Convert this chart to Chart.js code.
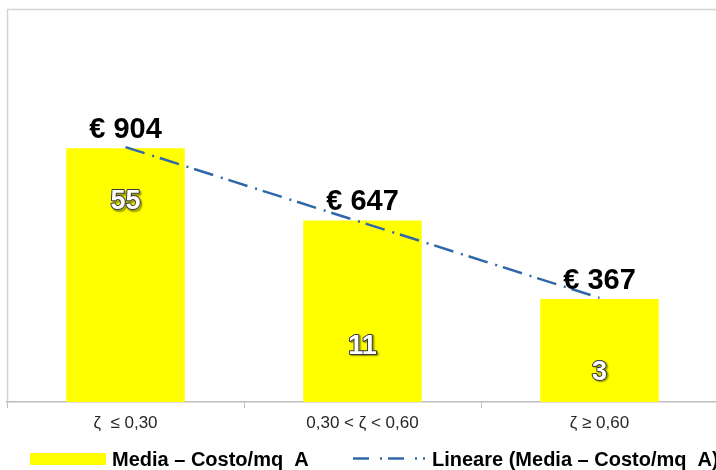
<!DOCTYPE html>
<html><head><meta charset="utf-8">
<script src="https://cdn.jsdelivr.net/npm/chart.js@4.4.1/dist/chart.umd.min.js"></script>
<style>
html,body{margin:0;padding:0;background:#fff;overflow:hidden;}
#wrap{position:relative;width:730px;height:470px;}
</style></head><body>
<div id="wrap"><canvas id="c"></canvas></div>
<script>
const categories = ['ζ  ≤ 0,30', '0,30 < ζ < 0,60', 'ζ ≥ 0,60'];
const costoMedio = [904, 647, 367];
const trendLineare = [908, 639, 371];
const numeroCampioni = [55, 11, 3];
const seriesNames = ['Media – Costo/mq  A', 'Lineare (Media – Costo/mq  A)'];

const FONT = '"Liberation Sans", Arial, sans-serif';
const BAR_COLOR = '#FFFF00';
const LINE_COLOR = '#2F68A8';

const framePlugin = {
  id: 'frame',
  beforeDraw(chart) {
    const {ctx, chartArea: a} = chart;
    ctx.save();
    ctx.strokeStyle = '#d4d4d4';
    ctx.lineWidth = 1.5;
    ctx.beginPath();
    ctx.moveTo(a.left + 0.5, a.bottom);
    ctx.lineTo(a.left + 0.5, a.top + 0.5);
    ctx.lineTo(chart.width, a.top + 0.5);
    ctx.stroke();
    ctx.restore();
  }
};

const labelPlugin = {
  id: 'labels',
  afterDatasetsDraw(chart) {
    const ctx = chart.ctx;
    ctx.save();
    const barMeta = chart.getDatasetMeta(0);
    ctx.font = 'bold 29px ' + FONT;
    ctx.textAlign = 'center';
    ctx.textBaseline = 'alphabetic';
    ctx.fillStyle = '#000';
    barMeta.data.forEach((el, i) => {
      ctx.fillText('€ ' + costoMedio[i], el.x, el.y - 10);
    });
    const cm = chart.getDatasetMeta(2);
    ctx.font = 'bold 27px ' + FONT;
    ctx.textBaseline = 'middle';
    cm.data.forEach((el, i) => {
      const t = String(numeroCampioni[i]);
      const y = el.y + 2;
      ctx.save();
      ctx.shadowColor = 'rgba(0,0,0,0.45)';
      ctx.shadowOffsetX = 1.5; ctx.shadowOffsetY = 1.5; ctx.shadowBlur = 1.5;
      ctx.lineWidth = 2; ctx.strokeStyle = '#3a3a3a'; ctx.lineJoin = 'round';
      ctx.strokeText(t, el.x, y);
      ctx.restore();
      ctx.fillStyle = '#fff';
      ctx.fillText(t, el.x, y);
    });
    ctx.restore();
  }
};

const legendPlugin = {
  id: 'customLegend',
  afterDraw(chart) {
    const ctx = chart.ctx;
    ctx.save();
    ctx.fillStyle = BAR_COLOR;
    ctx.fillRect(30, 453, 76, 12);
    ctx.font = 'bold 20px ' + FONT;
    ctx.fillStyle = '#000';
    ctx.textAlign = 'left';
    ctx.textBaseline = 'alphabetic';
    ctx.fillText(seriesNames[0], 112, 466);
    ctx.strokeStyle = LINE_COLOR;
    ctx.lineWidth = 2.5;
    ctx.setLineDash([16, 11, 2, 6]);
    ctx.beginPath();
    ctx.moveTo(353, 458.5); ctx.lineTo(425, 458.5);
    ctx.stroke();
    ctx.setLineDash([]);
    ctx.fillText(seriesNames[1], 432, 466);
    ctx.restore();
  }
};

new Chart(document.getElementById('c'), {
  data: {
    labels: categories,
    datasets: [
      {type: 'bar', label: seriesNames[0], data: costoMedio, backgroundColor: BAR_COLOR,
       barPercentage: 0.5, categoryPercentage: 1, yAxisID: 'y', order: 3},
      {type: 'line', label: seriesNames[1], data: trendLineare, borderColor: LINE_COLOR,
       borderWidth: 2.5, borderDash: [20, 8, 2, 6], pointRadius: 0, fill: false, yAxisID: 'y', order: 1},
      {type: 'line', label: 'Numero', data: numeroCampioni, showLine: false, pointRadius: 0,
       yAxisID: 'y2', order: 2}
    ]
  },
  options: {
    responsive: true,
    maintainAspectRatio: false,
    animation: false,
    devicePixelRatio: 1,
    layout: {padding: {left: 7, top: 9, right: 12, bottom: 0}},
    plugins: {legend: {display: false}, tooltip: {enabled: false}},
    scales: {
      x: {
        type: 'category', offset: true,
        grid: {display: true, drawOnChartArea: false, drawTicks: true, tickLength: 6,
               color: '#bdbdbd', offset: true, lineWidth: 1},
        border: {color: '#bdbdbd', width: 1.5},
        ticks: {font: {family: FONT, size: 17}, color: '#262626', padding: 5},
        afterFit(s) { s.height = 68; }
      },
      y: {display: false, min: 0, max: 1400},
      y2: {display: false, min: -6.6, max: 113.2}
    }
  },
  plugins: [framePlugin, labelPlugin, legendPlugin]
});
</script>
</body></html>
